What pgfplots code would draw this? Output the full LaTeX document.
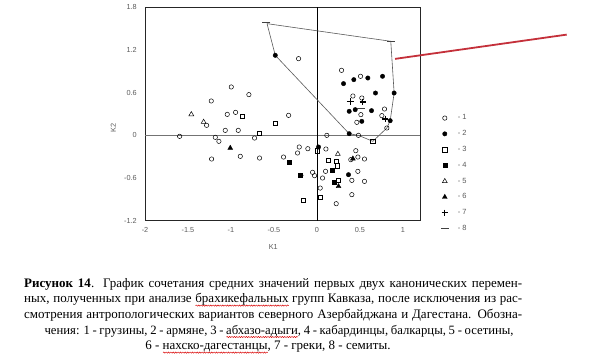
\documentclass[border=0pt]{standalone}
\usepackage{pgfplots}
\pgfplotsset{compat=1.18}
\usepackage{fontspec}
\setmainfont{Liberation Serif}
\newfontfamily\arial{Liberation Sans}
\usetikzlibrary{decorations.pathmorphing}
\definecolor{redline}{RGB}{196,48,58}
\definecolor{tickgray}{RGB}{90,90,90}
\pgfplotsset{mymk/.style={only marks, legend image code/.code={\path[draw=none,fill=none] (-4pt,-4pt) rectangle (4pt,4pt);\draw[##1] plot coordinates {(0pt,0pt)};}}}
\newlength\wavylen
\newcommand\wavy[1]{\settowidth\wavylen{#1}\rlap{\raisebox{-2.6pt}[0pt][0pt]{\tikz[baseline=0pt]\draw[red!85!black,line width=0.45pt,decorate,decoration={snake,amplitude=0.6pt,segment length=2.4pt}] (0pt,0pt)--(\wavylen,0pt);}}#1}
\begin{document}
\begin{tikzpicture}
\useasboundingbox (0pt,0pt) rectangle (600pt,-363pt);
\begin{axis}[
  at={(145pt,-220.7pt)}, anchor=south west,
  scale only axis, width=275pt, height=213.4pt,
  xmin=-2, xmax=1.2, ymin=-1.2, ymax=1.8,
  xtick={-2,-1.5,-1,-0.5,0,0.5,1}, xticklabels={-2,-1.5,-1,-0.5,0,0.5,1},
  ytick={-1.2,-0.6,0,0.6,1.2,1.8}, yticklabels={-1.2,-0.6,0,0.6,1.2,1.8},
  major tick length=0pt,
  tick label style={font=\arial\fontsize{7.3}{8}\selectfont, text=tickgray, inner sep=0pt},
  xticklabel shift=7pt, yticklabel shift=8pt,
  axis line style={draw=black!85, line width=0.6pt},
  clip=false,
  xlabel={K1}, ylabel={K2},
  label style={font=\arial\fontsize{7.3}{8}\selectfont, text=tickgray},
  xlabel style={at={(axis description cs:0.4665,-0.1247)}, anchor=center},
  ylabel style={at={(axis description cs:-0.1153,0.433)}, anchor=center},
  legend style={at={(axis description cs:1.064,0.51)}, anchor=north west,
    draw=none, fill=none, font=\arial\fontsize{7.5}{8}\selectfont, text=tickgray,
    nodes={inner sep=0pt}, row sep=7.8pt, column sep=0pt,
    /tikz/every odd column/.append style={column sep=9pt}},
  legend cell align=left,
]
% zero lines
\addplot[forget plot, draw=black!55, line width=1.1pt] coordinates {(-2,0) (1.2,0)};
\addplot[forget plot, draw=black, line width=0.6pt] coordinates {(0,-1.2) (0,1.8)};
% hull outline
\addplot[forget plot, draw=black!65, line width=0.6pt] coordinates {
(-0.58,1.57) (-0.484,1.125) (0.376,0.023) (0.484,0.0) (0.651,-0.084) (0.814,0.103)
(0.853,0.206) (0.899,0.595) (0.86,1.322) (-0.58,1.57)};
% red pointer
\addplot[forget plot, draw=redline, line width=1.8pt] coordinates {(0.91,1.075) (2.907,1.416)};
% 1 - open circles
\addplot[mymk, mark=o, mark size=2.2pt, mark options={draw=black, line width=0.5pt}] coordinates {
(-0.213,1.078) (0.287,0.914) (0.508,0.830) (-0.996,0.680) (-0.791,0.572) (-1.229,0.483)
(-1.043,0.295) (-0.946,0.323) (-0.329,0.281) (-1.283,0.141) (-1.066,0.070) (-0.915,0.070)
(-1.597,-0.014) (-1.182,-0.028) (-1.140,-0.084) (-0.725,-0.038) (-1.225,-0.333) (-0.891,-0.295)
(-0.667,-0.319) (-0.388,-0.305) (-0.205,-0.164) (-0.225,-0.248) (-0.105,-0.188) (0.105,-0.192)
(0.116,0.0) (0.419,0.553) (0.512,0.291) (0.465,0.183) (0.787,0.370) (0.756,0.277)
(0.814,0.103) (0.484,0.0) (0.453,-0.216) (0.395,-0.342) (0.477,-0.305) (0.554,-0.333)
(0.477,-0.506) (-0.050,-0.520) (-0.027,-0.567) (0.101,-0.506) (0.066,-0.600) (0.407,-0.633)
(0.554,-0.647) (0.039,-0.741) (0.407,-0.834) (0.225,-0.961) (0.523,0.525)};
\addlegendentry{- 1}
% 2 - filled circles
\addplot[mymk, mark=*, mark size=2.2pt, mark options={draw=black, fill=black}] coordinates {
(-0.484,1.125) (0.310,0.727) (0.430,0.783) (0.593,0.806) (0.764,0.830) (0.682,0.595)
(0.899,0.595) (0.376,0.338) (0.446,0.361) (0.636,0.347) (0.523,0.197) (0.853,0.206)
(0.376,0.023) (0.019,-0.164) (0.368,-0.553) (-0.186,-0.563)};
\addlegendentry{- 2}
% 3 - open squares
\addplot[mymk, mark=square, mark size=2.1pt, mark options={draw=black, line width=0.5pt}] coordinates {
(-0.872,0.263) (-0.481,0.173) (-0.667,0.033) (0.008,-0.216) (0.136,-0.352) (0.225,-0.366)
(0.233,-0.427) (0.252,-0.633) (0.039,-0.867) (-0.155,-0.914) (0.651,-0.084)};
\addlegendentry{- 3}
% 4 - filled squares
\addplot[mymk, mark=square*, mark size=2.1pt, mark options={draw=black, fill=black}] coordinates {
(-0.322,-0.375) (0.182,-0.492) (0.202,-0.656) (-0.194,-0.563)};
\addlegendentry{- 4}
% 5 - open triangles
\addplot[mymk, mark=triangle, mark size=2.8pt, mark options={draw=black, line width=0.5pt}] coordinates {
(-1.461,0.295) (-1.318,0.188) (0.244,-0.263)};
\addlegendentry{- 5}
% 6 - filled triangles
\addplot[mymk, mark=triangle*, mark size=2.8pt, mark options={draw=black, fill=black}] coordinates {
(-1.008,-0.178) (0.252,-0.717) (0.419,-0.328)};
\addlegendentry{- 6}
% 7 - plus
\addplot[mymk, mark=+, mark size=3.3pt, mark options={draw=black, line width=1.1pt}] coordinates {
(0.388,0.478) (0.535,0.469) (0.795,0.230)};
\addlegendentry{- 7}
% 8 - dash
\addplot[mymk, mark=-, mark size=4pt, mark options={draw=black!75, line width=1pt}] coordinates {
(-0.589,1.580) (0.860,1.322) (0.512,0.384)};
\addlegendentry{- 8}
\end{axis}
% caption
\begin{scope}[every node/.style={inner sep=0pt, font=\fontsize{13}{15.5}\selectfont}]
\node[anchor=base west] at (24pt,-287.5pt) {\makebox[498pt][s]{\textbf{Рисунок 14}.  График  сочетания  средних  значений первых двух канонических перемен-}};
\node[anchor=base west] at (24pt,-303pt) {\makebox[498pt][s]{ных, полученных при анализе \wavy{брахикефальных} групп Кавказа,  после исключения из рас-}};
\node[anchor=base west] at (24pt,-318.7pt) {\makebox[498pt][s]{смотрения антропологических вариантов северного Азербайджана и  Дагестана. Обозна-}};
\node[anchor=base west, font=\fontsize{12.7}{15.5}\selectfont] at (44.4pt,-334.4pt) {\makebox[469pt][s]{чения:  1 - грузины, 2 - армяне, 3 - \wavy{абхазо-адыги}, 4 - кабардинцы, балкарцы, 5 - осетины,}};
\node[anchor=base] at (268pt,-350pt) {6 - \wavy{нахско-дагестанцы}, 7 - греки, 8 - семиты.};
\end{scope}
\end{tikzpicture}
\end{document}
